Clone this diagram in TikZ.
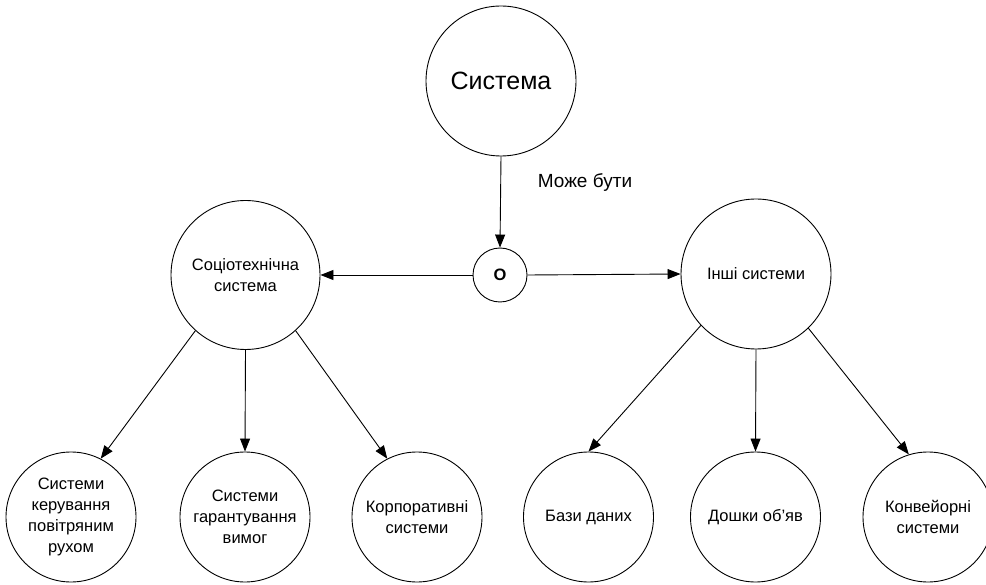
\documentclass[tikz,border=0pt]{standalone}
\usepackage{fontspec}
\setmainfont{Liberation Sans}
\usetikzlibrary{arrows.meta}
\tikzset{
  circ/.style={draw, circle, line width=0.9pt, inner sep=0pt, align=center,
               font=\fontsize{16.5}{21}\selectfont},
  big/.style={circ, minimum size=150pt},
  small/.style={circ, minimum size=130pt},
  arr/.style={line width=0.9pt, -{Triangle[length=13pt,width=10pt]}},
}
\begin{document}
\begin{tikzpicture}[x=1pt,y=-1pt]
  \useasboundingbox (0,0) rectangle (986,585);
  % top level
  \node[big, font=\fontsize{25}{30}\selectfont] (sys) at (501,81) {Система};
  \node[circ, minimum size=54pt, font=\fontsize{16.5}{20}\selectfont\bfseries] (or) at (500,275) {О};
  \node[font=\fontsize{19}{23}\selectfont] (lbl) at (585,183) {Може бути};
  % second level
  \node[big, minimum size=149pt] (soc) at (245.5,275) {Соціотехнічна\\система};
  \node[big] (inn) at (756,274) {Інші системи};
  % third level
  \node[small] (b1) at (71,517) {Системи\\керування\\повітряним\\рухом};
  \node[small] (b2) at (245,517) {Системи\\гарантування\\вимог};
  \node[small] (b3) at (417,517) {Корпоративні\\системи};
  \node[small] (b4) at (588.5,517) {Бази даних};
  \node[small] (b5) at (755.5,517) {Дошки об’яв};
  \node[small] (b6) at (928,517) {Конвейорні\\системи};
  % connectors
  \draw[arr] (sys.south) -- (or.north);
  \draw[arr] (or.west) -- (soc.east);
  \draw[arr] (or.east) -- (inn.west);
  \draw[arr] (soc.228) -- (b1.63);
  \draw[arr] (soc.south) -- (b2.north);
  \draw[arr] (soc.312) -- (b3.117);
  \draw[arr] (inn.223) -- (b4.90);
  \draw[arr] (inn.south) -- (b5.north);
  \draw[arr] (inn.314) -- (b6.107);
\end{tikzpicture}
\end{document}
